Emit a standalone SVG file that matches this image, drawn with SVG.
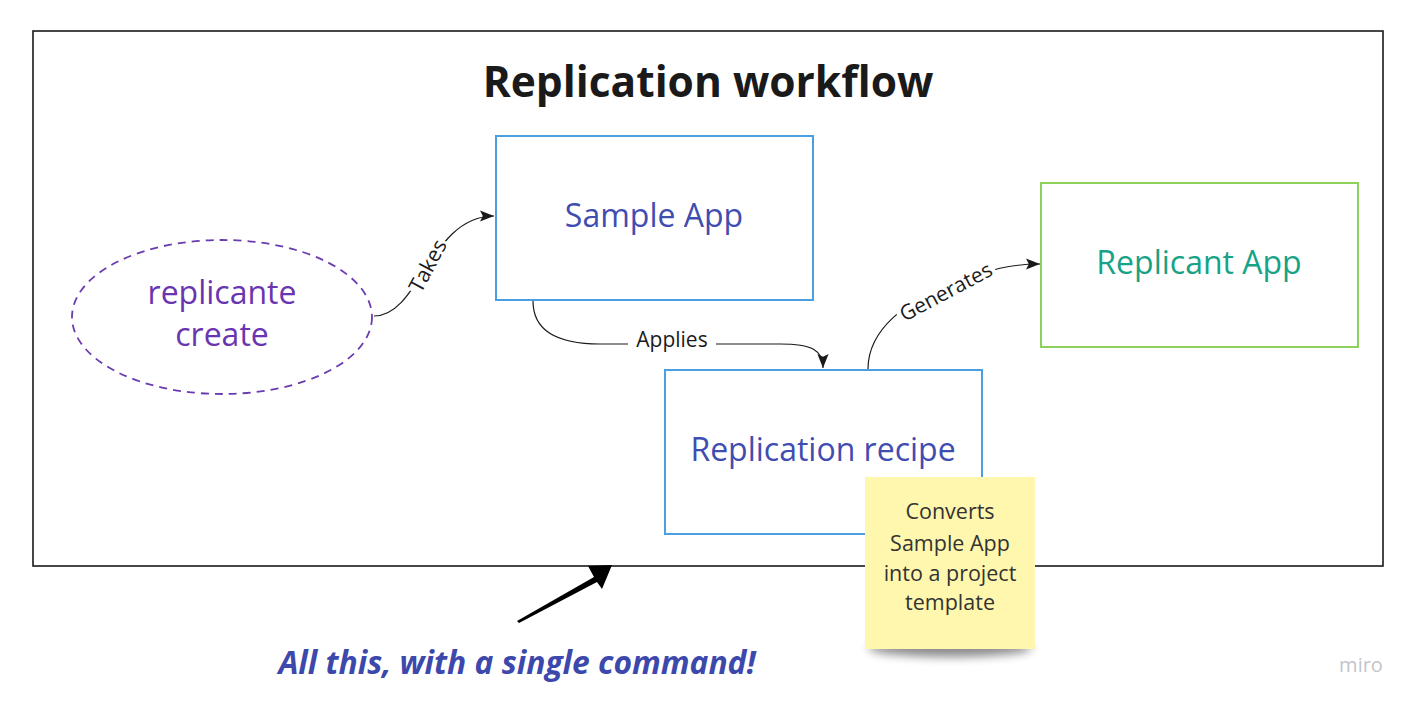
<svg xmlns="http://www.w3.org/2000/svg" width="1415" height="706" viewBox="0 0 1415 706">
<defs>
<style>
text{font-family:"Open Sans","Noto Sans","Liberation Sans",sans-serif}
.box{fill:#fff;stroke:#4a9fe3;stroke-width:2}
.lbl{font-size:32px;text-anchor:middle}
.conn{fill:none;stroke:#1a1a1a;stroke-width:1.2}
.clbl{font-size:21px;fill:#1a1a1a;text-anchor:middle}
.note{font-size:21.5px;fill:#333;text-anchor:middle}
</style>
<marker id="arr" viewBox="0 0 10 10" refX="10" refY="5" markerWidth="14" markerHeight="14" markerUnits="userSpaceOnUse" orient="auto">
<path d="M0,1 L10,5 L0,9 L2,5 Z" fill="#1a1a1a"/>
</marker>
<filter id="blur" x="-20%" y="-80%" width="140%" height="260%"><feGaussianBlur stdDeviation="5"/></filter>
</defs>
<rect width="1415" height="706" fill="#fff"/>
<rect id="frame" x="33" y="31" width="1350" height="535" fill="none" stroke="#1a1a1a" stroke-width="1.6"/>
<text x="708" y="97" font-size="42.5" font-weight="bold" fill="#1a1a1a" text-anchor="middle">Replication workflow</text>

<g id="connectors">
<path class="conn" d="M374,316 C420,316 430,216 494,216" marker-end="url(#arr)"/>
<path class="conn" d="M533,301 C533,330 555,344 600,344 L780,344 C812,344 823,350 823,368" marker-end="url(#arr)"/>
<path class="conn" d="M868,369 C868,330 905,300 960,280 C990,270 1010,264 1040,264" marker-end="url(#arr)"/>
<g>
<rect x="628" y="327" width="88" height="28" fill="#fff"/>
<text class="clbl" x="672" y="347">Applies</text>
<g transform="translate(428,266) rotate(-62)">
<rect x="-30" y="-14" width="60" height="28" fill="#fff"/>
<text class="clbl" x="0" y="7">Takes</text>
</g>
<g transform="translate(946,292) rotate(-28)">
<rect x="-54" y="-14" width="108" height="28" fill="#fff"/>
<text class="clbl" x="0" y="7">Generates</text>
</g>
</g>
</g>

<g id="replicante-create">
<ellipse cx="222" cy="317" rx="150" ry="77" fill="#fff" stroke="#6a3cb0" stroke-width="1.8" stroke-dasharray="8,6"/>
<text class="lbl" x="222" y="304" fill="#6a35b0">replicante</text>
<text class="lbl" x="222" y="346" fill="#6a35b0">create</text>
</g>

<g id="sample-app">
<rect class="box" x="496" y="136" width="317" height="164"/>
<text class="lbl" x="654" y="227" fill="#3f4db0">Sample App</text>
</g>

<g id="replicant-app">
<rect x="1041" y="183" width="317" height="164" fill="#fff" stroke="#8fd05a" stroke-width="2"/>
<text class="lbl" x="1199" y="274" fill="#16a386">Replicant App</text>
</g>

<g id="replication-recipe">
<rect class="box" x="665" y="370" width="317" height="164"/>
<text class="lbl" x="823" y="461" fill="#3f4db0">Replication recipe</text>
</g>

<g id="sticky-note">
<ellipse cx="950" cy="648" rx="82" ry="9" fill="#000" opacity="0.45" filter="url(#blur)"/>
<rect x="865" y="477" width="170" height="172" fill="#fff7ad"/>
<text class="note" x="950" y="519">Converts</text>
<text class="note" x="950" y="551">Sample App</text>
<text class="note" x="950" y="581">into a project</text>
<text class="note" x="950" y="610">template</text>
</g>

<g id="big-arrow">
<polygon points="517,621 594,577 588,566 612,565 602,589 597,582 519,623" fill="#000"/>
</g>

<text x="517" y="674" font-size="31.8" font-weight="bold" font-style="italic" fill="#3d48ad" text-anchor="middle">All this, with a single command!</text>
<text x="1361" y="672" font-size="20" fill="#c4c4cc" text-anchor="middle">miro</text>
</svg>
